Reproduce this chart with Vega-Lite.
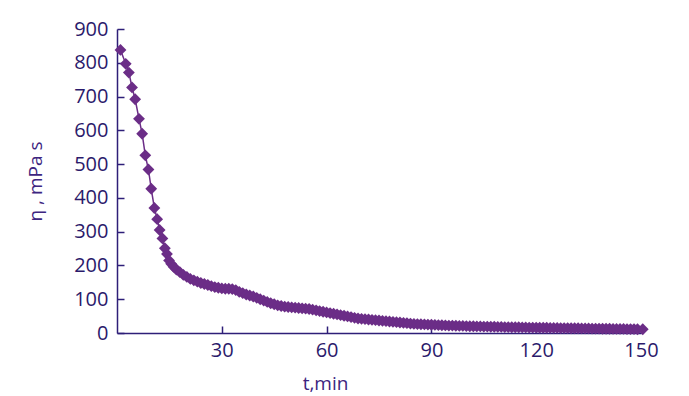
{
  "$schema": "https://vega.github.io/schema/vega-lite/v6.json",
  "width": 524,
  "height": 304,
  "autosize": {"type": "none"},
  "padding": {"left": 117, "top": 29, "right": 48, "bottom": 63},
  "background": "white",
  "config": {
    "view": {"stroke": null},
    "font": "Open Sans",
    "axis": {
      "grid": false,
      "domainColor": "#2e1f78",
      "domainWidth": 1.5,
      "tickColor": "#2e1f78",
      "tickWidth": 1.5,
      "labelColor": "#2b1a6b",
      "labelFont": "Open Sans",
      "labelFontSize": 20,
      "labelFlush": false,
      "titleFont": "Open Sans",
      "titleFontWeight": "normal",
      "titleFontSize": 19,
      "titleColor": "#3d2580"
    }
  },
  "data": {
    "values": [
      {"t": 1.0, "eta": 838}, {"t": 2.5, "eta": 797}, {"t": 3.4, "eta": 771}, {"t": 4.3, "eta": 727},
      {"t": 5.2, "eta": 692}, {"t": 6.3, "eta": 634}, {"t": 7.2, "eta": 590}, {"t": 8.1, "eta": 526},
      {"t": 9.0, "eta": 484}, {"t": 9.8, "eta": 427}, {"t": 10.7, "eta": 370}, {"t": 11.5, "eta": 337},
      {"t": 12.2, "eta": 305}, {"t": 13.0, "eta": 280}, {"t": 13.7, "eta": 251}, {"t": 14.3, "eta": 234},
      {"t": 14.9, "eta": 215}, {"t": 15.5, "eta": 205}, {"t": 16.2, "eta": 196}, {"t": 17, "eta": 188},
      {"t": 18, "eta": 180}, {"t": 19, "eta": 172}, {"t": 20, "eta": 166}, {"t": 21, "eta": 160},
      {"t": 22, "eta": 156}, {"t": 23, "eta": 152}, {"t": 24, "eta": 148}, {"t": 25, "eta": 145},
      {"t": 26, "eta": 142}, {"t": 27, "eta": 139}, {"t": 28, "eta": 136}, {"t": 29, "eta": 134},
      {"t": 30, "eta": 132}, {"t": 31, "eta": 131}, {"t": 32, "eta": 131}, {"t": 33, "eta": 130},
      {"t": 34, "eta": 127}, {"t": 35, "eta": 122}, {"t": 36, "eta": 118}, {"t": 37, "eta": 114},
      {"t": 38, "eta": 111}, {"t": 39, "eta": 108}, {"t": 40, "eta": 104}, {"t": 41, "eta": 100},
      {"t": 42, "eta": 96}, {"t": 43, "eta": 92}, {"t": 44, "eta": 88}, {"t": 45, "eta": 85},
      {"t": 46, "eta": 82}, {"t": 47, "eta": 80}, {"t": 48, "eta": 78}, {"t": 49, "eta": 77},
      {"t": 50, "eta": 76}, {"t": 51, "eta": 75}, {"t": 52, "eta": 74}, {"t": 53, "eta": 73},
      {"t": 54, "eta": 72}, {"t": 55, "eta": 71}, {"t": 56, "eta": 69}, {"t": 57, "eta": 67},
      {"t": 58, "eta": 65}, {"t": 59, "eta": 63}, {"t": 60, "eta": 61}, {"t": 61, "eta": 59},
      {"t": 62, "eta": 57}, {"t": 63, "eta": 55}, {"t": 64, "eta": 53}, {"t": 65, "eta": 51},
      {"t": 66, "eta": 49}, {"t": 67, "eta": 47}, {"t": 68, "eta": 45}, {"t": 69, "eta": 43},
      {"t": 70, "eta": 42}, {"t": 71, "eta": 41}, {"t": 72, "eta": 40}, {"t": 73, "eta": 39},
      {"t": 74, "eta": 38}, {"t": 75, "eta": 37}, {"t": 76, "eta": 36}, {"t": 77, "eta": 35},
      {"t": 78, "eta": 34}, {"t": 79, "eta": 33}, {"t": 80, "eta": 32}, {"t": 81, "eta": 31},
      {"t": 82, "eta": 30}, {"t": 83, "eta": 29}, {"t": 84, "eta": 28}, {"t": 85, "eta": 27},
      {"t": 86, "eta": 26.5}, {"t": 87, "eta": 26}, {"t": 88, "eta": 25.5}, {"t": 89, "eta": 25},
      {"t": 90, "eta": 24.5}, {"t": 91, "eta": 24}, {"t": 92, "eta": 23.5}, {"t": 93, "eta": 23},
      {"t": 94, "eta": 22.5}, {"t": 95, "eta": 22}, {"t": 96, "eta": 22}, {"t": 97, "eta": 21.5},
      {"t": 98, "eta": 21}, {"t": 99, "eta": 21}, {"t": 100, "eta": 20.5}, {"t": 101, "eta": 20},
      {"t": 102, "eta": 20}, {"t": 103, "eta": 19.5}, {"t": 104, "eta": 19.5}, {"t": 105, "eta": 19},
      {"t": 106, "eta": 19}, {"t": 107, "eta": 18.5}, {"t": 108, "eta": 18.5}, {"t": 109, "eta": 18},
      {"t": 110, "eta": 18}, {"t": 111, "eta": 17.5}, {"t": 112, "eta": 17.5}, {"t": 113, "eta": 17},
      {"t": 114, "eta": 17}, {"t": 115, "eta": 17}, {"t": 116, "eta": 16.5}, {"t": 117, "eta": 16.5},
      {"t": 118, "eta": 16}, {"t": 119, "eta": 16}, {"t": 120, "eta": 16}, {"t": 121, "eta": 15.5},
      {"t": 122, "eta": 15.5}, {"t": 123, "eta": 15.5}, {"t": 124, "eta": 15}, {"t": 125, "eta": 15},
      {"t": 126, "eta": 15}, {"t": 127, "eta": 14.5}, {"t": 128, "eta": 14.5}, {"t": 129, "eta": 14.5},
      {"t": 130, "eta": 14}, {"t": 131, "eta": 14}, {"t": 132, "eta": 14}, {"t": 133, "eta": 13.5},
      {"t": 134, "eta": 13.5}, {"t": 135, "eta": 13.5}, {"t": 136, "eta": 13}, {"t": 137, "eta": 13},
      {"t": 138, "eta": 13}, {"t": 139, "eta": 12.5}, {"t": 140, "eta": 12.5}, {"t": 141, "eta": 12.5},
      {"t": 142, "eta": 12}, {"t": 143, "eta": 12}, {"t": 144, "eta": 12}, {"t": 145, "eta": 12},
      {"t": 146, "eta": 11.5}, {"t": 147, "eta": 11.5}, {"t": 148, "eta": 11.5}, {"t": 149, "eta": 11},
      {"t": 150.5, "eta": 11}
    ]
  },
  "encoding": {
    "x": {
      "field": "t", "type": "quantitative",
      "scale": {"domain": [0, 150], "nice": false, "zero": true},
      "axis": {
        "title": "t,min",
        "values": [30, 60, 90, 120, 150],
        "tickSize": -7,
        "labelPadding": 14,
        "titleX": 208,
        "titleY": 50,
        "titleBaseline": "middle",
        "titleAlign": "center"
      }
    },
    "y": {
      "field": "eta", "type": "quantitative",
      "scale": {"domain": [0, 900], "nice": false},
      "axis": {
        "title": "η ,  mPa s",
        "values": [0, 100, 200, 300, 400, 500, 600, 700, 800, 900],
        "tickSize": -7,
        "labelPadding": 16,
        "titleX": -82,
        "titleY": 152,
        "titleAngle": -90,
        "titleAlign": "center",
        "titleBaseline": "middle"
      }
    }
  },
  "layer": [
    {"mark": {"type": "line", "color": "#6b2d87", "strokeWidth": 1.5, "clip": false}},
    {"mark": {"type": "point", "shape": "diamond", "filled": true, "size": 140, "color": "#6b2d87", "opacity": 1, "clip": false}}
  ]
}
